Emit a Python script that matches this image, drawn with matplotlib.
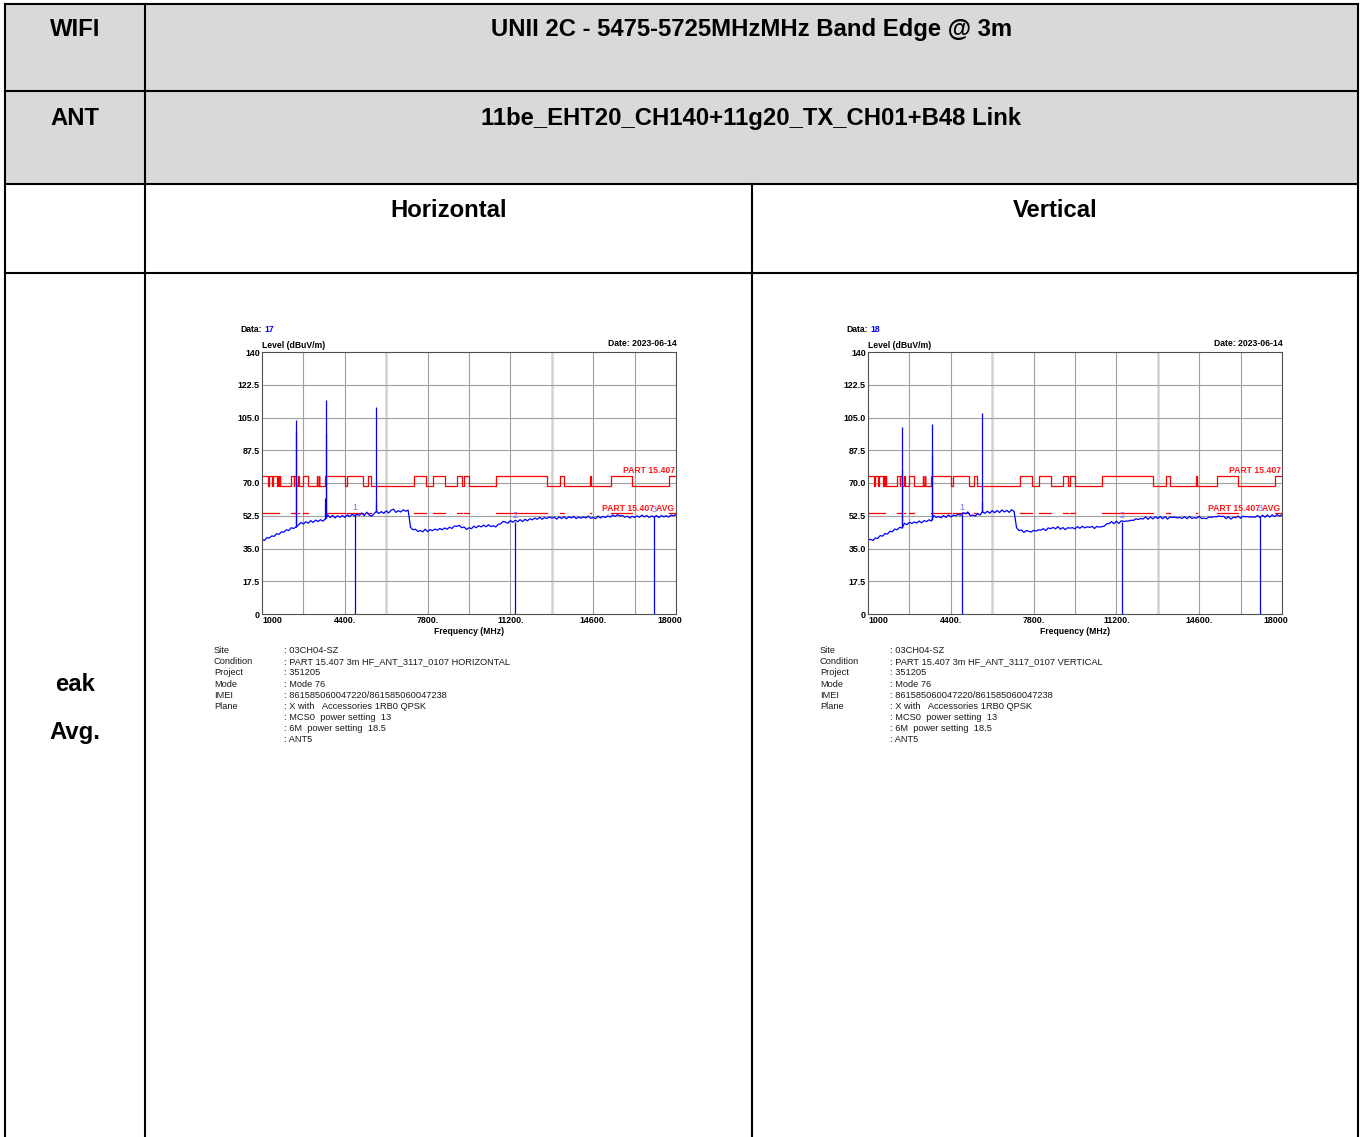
import numpy as np
import matplotlib
matplotlib.use("Agg")
import matplotlib.pyplot as plt
import matplotlib.transforms as mtransforms
from matplotlib.patches import Rectangle

plt.rcParams['font.family'] = ['Liberation Sans', 'DejaVu Sans']

W, H = 1363, 1137

# table texts
row_heads = ["WIFI", "ANT"]
row_texts = ["UNII 2C - 5475-5725MHzMHz Band Edge @ 3m",
             "11be_EHT20_CH140+11g20_TX_CH01+B48 Link"]
pol_heads = ["Horizontal", "Vertical"]
side_labels = ["eak", "Avg."]

# scan axes
f_start, f_stop, f_step = 1000, 18000, 100
x_ticks = [1000, 4400, 7800, 11200, 14600, 18000]
x_ticklabels = ["1000", "4400.", "7800.", "11200.", "14600.", "18000"]
x_grid = [2700, 4400, 7800, 9500, 11200, 14600, 16300]
x_grid_light = [6100, 12900]
y_ticks = [0, 17.5, 35, 52.5, 70, 87.5, 105, 122.5, 140]
y_ticklabels = ["0", "17.5", "35.0", "52.5", "70.0", "87.5", "105.0", "122.5", "140"]

# FCC 15.205 restricted bands (MHz)
restricted = [(960, 1240), (1300, 1427), (1435, 1626.5), (1645.5, 1646.5),
              (1660, 1710), (1718.8, 1722.2), (2200, 2300), (2310, 2390),
              (2483.5, 2500), (2690, 2900), (3260, 3267), (3332, 3339),
              (3345.8, 3358), (3600, 4400), (4500, 5150), (5350, 5460),
              (7250, 7750), (8025, 8500), (9000, 9200), (9300, 9500),
              (10600, 12700), (13250, 13400), (14470, 14500), (15350, 16200),
              (17700, 21400)]
pk_in, pk_out = 74.0, 68.2
avg_lim = 54.0

# horizontal sweep, 100 MHz steps from 1000 MHz
h_floor = [40.0, 39.3, 40.8, 40.6, 41.7, 41.5, 42.9, 42.6, 43.9, 43.7,
           45.0, 44.6, 46.1, 45.7, 46.6, 47.6, 48.9, 48.1, 49.3, 48.5,
           49.9, 48.9, 50.2, 49.4, 50.4, 49.6, 50.8, 52.9, 51.5, 52.7,
           51.3, 52.5, 51.7, 52.6, 51.6, 53.0, 52.0, 53.3, 52.4, 53.2,
           52.8, 53.9, 52.6, 54.4, 52.9, 52.3, 53.6, 54.9, 53.7, 54.7,
           53.8, 55.1, 54.0, 55.4, 56.0, 54.3, 55.2, 54.5, 55.7, 54.9,
           55.5, 46.3, 45.0, 45.3, 44.1, 44.6, 43.9, 45.3, 44.0, 45.1,
           44.5, 45.4, 44.8, 45.7, 45.0, 46.0, 45.3, 46.4, 45.7, 47.0,
           46.8, 47.4, 46.1, 46.5, 45.2, 46.1, 45.6, 46.9, 46.1, 47.2,
           46.5, 47.5, 46.6, 47.7, 46.7, 47.2, 46.5, 47.9, 48.2, 49.5,
           49.1, 48.5, 49.9, 49.0, 50.1, 49.3, 50.4, 49.4, 50.6, 49.8,
           50.9, 50.3, 51.3, 50.6, 51.7, 50.6, 51.6, 51.0, 51.9, 51.2,
           51.7, 50.7, 51.9, 51.0, 52.0, 50.9, 51.9, 51.3, 52.1, 51.0,
           51.8, 51.2, 51.9, 51.3, 52.3, 51.1, 51.6, 50.9, 52.3, 51.3,
           52.2, 51.5, 52.5, 51.8, 52.9, 52.1, 53.1, 52.4, 52.6, 51.7,
           52.3, 51.3, 52.2, 51.6, 52.4, 51.7, 52.8, 51.9, 52.6, 51.6,
           52.4, 51.8, 52.6, 51.5, 52.6, 51.9, 52.5, 51.8, 52.9, 52.4,
           53.2]
h_spike_f = [2405, 2414, 3600, 3622, 3634, 5688, 5697]
h_spike_lv = [103.5, 97.0, 62.0, 114.5, 96.5, 60.0, 110.5]
h_mk_f = [4830, 11408, 17112]
h_mk_lv = [53.2, 48.9, 52.4]

# vertical sweep
v_floor = [39.5, 39.9, 39.3, 40.6, 40.4, 41.9, 41.6, 43.0, 42.7, 44.2,
           43.9, 45.4, 45.0, 46.3, 46.0, 48.5, 47.7, 49.0, 48.4, 49.2,
           48.6, 49.7, 48.7, 49.9, 49.4, 50.3, 49.7, 52.6, 51.6, 52.1,
           51.4, 52.6, 51.6, 52.9, 51.9, 52.8, 52.5, 53.3, 52.8, 54.1,
           53.6, 54.5, 52.5, 52.9, 52.3, 53.7, 52.9, 54.7, 53.8, 54.9,
           53.9, 55.2, 54.1, 55.3, 54.2, 55.6, 54.5, 55.4, 54.3, 55.7,
           54.8, 46.1, 44.6, 44.9, 43.6, 44.6, 44.2, 43.8, 44.7, 44.3,
           45.0, 44.8, 45.6, 44.6, 46.0, 45.6, 46.3, 45.5, 46.7, 45.3,
           46.2, 45.1, 46.1, 45.9, 46.1, 45.5, 46.7, 45.8, 46.9, 46.0,
           46.6, 46.3, 46.8, 45.7, 46.8, 46.4, 46.7, 46.9, 48.2, 48.3,
           49.4, 48.2, 49.6, 48.4, 49.8, 49.5, 49.6, 49.7, 50.1, 50.0,
           50.9, 50.5, 51.0, 50.8, 51.9, 50.6, 51.8, 50.8, 52.0, 51.0,
           52.1, 50.9, 52.0, 50.7, 51.8, 51.6, 51.7, 51.4, 51.5, 51.1,
           52.0, 50.9, 52.1, 51.1, 51.4, 51.2, 52.2, 51.0, 51.2, 50.9,
           51.9, 51.6, 52.0, 51.9, 52.4, 52.1, 52.2, 51.0, 52.0, 50.7,
           51.7, 51.5, 52.3, 51.2, 52.2, 52.0, 52.0, 51.8, 51.9, 51.7,
           52.6, 51.5, 52.8, 51.7, 52.9, 51.8, 53.0, 52.0, 53.1, 52.3,
           53.0]
v_spike_f = [2400, 2414, 3620, 3632, 5690, 5700]
v_spike_lv = [77.0, 99.7, 101.3, 84.5, 60.0, 107.5]
v_mk_f = [4871, 11420, 17112]
v_mk_lv = [53.5, 49.0, 52.6]

info_keys = ["Site", "Condition", "Project", "Mode", "IMEI", "Plane", "", "", ""]
h_info = ["03CH04-SZ", "PART 15.407 3m HF_ANT_3117_0107 HORIZONTAL", "351205",
          "Mode 76", "861585060047220/861585060047238",
          "X with   Accessories 1RB0 QPSK", "MCS0  power setting  13",
          "6M  power setting  18.5", "ANT5"]
v_info = ["03CH04-SZ", "PART 15.407 3m HF_ANT_3117_0107 VERTICAL", "351205",
          "Mode 76", "861585060047220/861585060047238",
          "X with   Accessories 1RB0 QPSK", "MCS0  power setting  13",
          "6M  power setting  18.5", "ANT5"]

fig = plt.figure(figsize=(W / 100, H / 100), dpi=100)
tab = fig.add_axes([0, 0, 1, 1])
tab.set_xlim(0, W)
tab.set_ylim(H, 0)
tab.axis('off')

# table frame
L, R, T = 5, 1358, 3.5
r1, r2, r3 = 91, 183.5, 272.5
c1, c2 = 145, 752
tab.add_patch(Rectangle((L, T), R - L, r2 - T, color='#d9d9d9', lw=0))
lw = 1.5
for y in [T, r1, r2, r3]:
    tab.plot([L, R], [y, y], color='black', lw=lw, solid_capstyle='projecting')
for x in [L, R, c1]:
    tab.plot([x, x], [T, H + 5], color='black', lw=lw)
tab.plot([c2, c2], [r2, H + 5], color='black', lw=lw)

big = dict(fontsize=17.2, fontweight='bold', ha='center', va='center')
for i, y in enumerate([29.5, 118.5]):
    tab.text((L + c1) / 2, y, row_heads[i], **big)
    tab.text((c1 + R) / 2, y, row_texts[i], **big)
tab.text((c1 + c2) / 2, 210.5, pol_heads[0], **big)
tab.text((c2 + R) / 2, 210.5, pol_heads[1], **big)
tab.text((L + c1) / 2, 684.5, side_labels[0], **big)
tab.text((L + c1) / 2, 732.5, side_labels[1], **big)

freqs = f_start + f_step * np.arange(len(h_floor))


def draw_scan(x0, floor, sp_f, sp_lv, mk_f, mk_lv, data_no, info):
    top, bot, aw = 352, 614, 414
    ax = fig.add_axes([x0 / W, (H - bot) / H, aw / W, (bot - top) / H])
    ax.set_xlim(f_start, f_stop)
    ax.set_ylim(0, 140)
    for s in ax.spines.values():
        s.set_color('#505050')
        s.set_linewidth(0.8)
    for g in x_grid:
        ax.axvline(g, color='#a0a0a0', lw=0.8, zorder=0)
    for g in x_grid_light:
        ax.axvline(g, color='#d2d2d2', lw=1.8, zorder=0)
    for g in y_ticks[1:-1]:
        ax.axhline(g, color='#a0a0a0', lw=0.8, zorder=0)
    ax.set_xticks(x_ticks)
    ax.set_xticklabels(x_ticklabels, fontsize=6.4, fontweight='bold')
    ax.set_yticks(y_ticks)
    ax.set_yticklabels(y_ticklabels, fontsize=6.4, fontweight='bold')
    ax.tick_params(length=0, pad=1.5)
    lbls = ax.get_xticklabels()
    lbls[0].set_ha('left')
    lbls[-1].set_transform(lbls[-1].get_transform() +
                           mtransforms.ScaledTranslation(-0.06, 0, fig.dpi_scale_trans))

    # limit lines
    lx, ly = [], []
    prev = f_start
    for lo, hi in restricted:
        lo, hi = max(lo, f_start), min(hi, f_stop)
        if hi <= lo:
            continue
        if lo > prev:
            lx += [prev, lo]
            ly += [pk_out, pk_out]
        lx += [lo, hi]
        ly += [pk_in, pk_in]
        ax.plot([lo, hi], [avg_lim, avg_lim], color='#ff0000', lw=0.9)
        prev = hi
    if prev < f_stop:
        lx += [prev, f_stop]
        ly += [pk_out, pk_out]
    ax.plot(lx, ly, color='#ff0000', lw=0.9)

    # trace
    ax.plot(freqs, floor, color='#0000ff', lw=0.9)
    base = np.interp(sp_f, freqs, floor)
    ax.vlines(sp_f, base, sp_lv, color='#0000ff', lw=0.9)
    ax.vlines(mk_f, 0, mk_lv, color='#0000ff', lw=0.9)
    for i, (f, lv) in enumerate(zip(mk_f, mk_lv)):
        ax.text(f, lv + 1.2, str(i + 1), color='#7070ff', fontsize=6.5,
                ha='center', va='bottom')

    ax.text(f_stop - 60, 75.3, "PART 15.407", color='#ff1a1a', fontsize=6.2,
            fontweight='bold', ha='right', va='baseline')
    ax.text(f_stop - 60, 55.0, "PART 15.407 AVG", color='#ff1a1a', fontsize=6.2,
            fontweight='bold', ha='right', va='baseline')

    small = dict(fontsize=6.2, fontweight='bold')
    tab.text(x0 - 22, 330, "Data:", ha='left', va='center', **small)
    tab.text(x0 + 2, 330, str(data_no), ha='left', va='center', color='#0000ff', **small)
    tab.text(x0, 345.5, "Level (dBuV/m)", ha='left', va='center', **small)
    tab.text(x0 + aw + 1, 344, "Date: 2023-06-14", ha='right', va='center', **small)
    tab.text(x0 + aw / 2, 632, "Frequency (MHz)", ha='center', va='center', **small)

    for i, (k, v) in enumerate(zip(info_keys, info)):
        y = 650.5 + 11.17 * i
        tab.text(x0 - 48, y, k, fontsize=6.7, ha='left', va='center', color='#1a1a1a')
        tab.text(x0 + 22, y, ": " + v, fontsize=6.7, ha='left', va='center', color='#1a1a1a')


draw_scan(262, h_floor, h_spike_f, h_spike_lv, h_mk_f, h_mk_lv, 17, h_info)
draw_scan(868, v_floor, v_spike_f, v_spike_lv, v_mk_f, v_mk_lv, 18, v_info)

fig.savefig("out.png", dpi=100)
